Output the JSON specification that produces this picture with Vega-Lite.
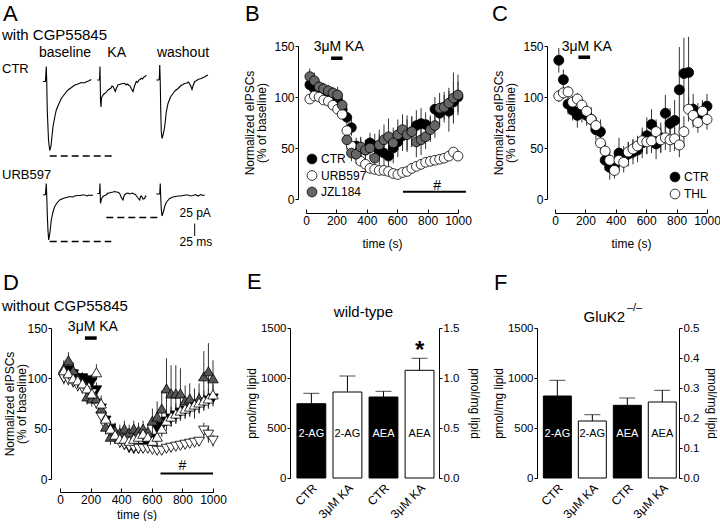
{
"$schema":"https://vega.github.io/schema/vega-lite/v6.json",
"padding":{"left":2,"top":3,"right":0,"bottom":0},
"autosize":{"type":"pad"},
"spacing":22,
"resolve":{"scale":{"fill":"independent","shape":"independent","color":"independent"},"legend":{"fill":"independent"}},
"config":{
"font":"Liberation Sans",
"view":{"stroke":null},
"axis":{"domainColor":"black","tickColor":"black","labelColor":"black","titleColor":"black","labelFontSize":12,"titleFontSize":12,"titleFontWeight":"normal","grid":false,"labelFont":"Liberation Sans","titleFont":"Liberation Sans","labelFlush":false,"labelOverlap":false,"domainWidth":1,"tickWidth":1},
"legend":{"labelColor":"black","labelFont":"Liberation Sans","labelFontSize":12},
"title":{"font":"Liberation Sans","fontWeight":"normal","color":"black","fontSize":15}
},
"vconcat":[
{
"hconcat":[
{
"width":175,"height":152,
"data":{"values":[
{"tr":"c1","t":-154,"v":-71},{"tr":"c1","t":-149,"v":-71},{"tr":"c1","t":-147.5,"v":-41},{"tr":"c1","t":-146.5,"v":-72},{"tr":"c1","t":-145.5,"v":-128},{"tr":"c1","t":-143,"v":-188},{"tr":"c1","t":-140.6,"v":-209},{"tr":"c1","t":-138,"v":-200},{"tr":"c1","t":-134,"v":-161},{"tr":"c1","t":-130,"v":-140},{"tr":"c1","t":-127.4,"v":-128},{"tr":"c1","t":-122,"v":-115},{"tr":"c1","t":-117.4,"v":-105},{"tr":"c1","t":-110,"v":-95},{"tr":"c1","t":-104,"v":-88},{"tr":"c1","t":-97,"v":-83},{"tr":"c1","t":-90.6,"v":-78},{"tr":"c1","t":-84,"v":-76},{"tr":"c1","t":-77.4,"v":-73},{"tr":"c1","t":-72,"v":-74},{"tr":"c1","t":-68,"v":-72},{"tr":"c1","t":-63,"v":-70},{"tr":"c1","t":-57.4,"v":-67},
{"tr":"c2","t":-45.4,"v":-68},{"tr":"c2","t":-41,"v":-68},{"tr":"c2","t":-40,"v":-41},{"tr":"c2","t":-39,"v":-110},{"tr":"c2","t":-38,"v":-122},{"tr":"c2","t":-37,"v":-104},{"tr":"c2","t":-34,"v":-98},{"tr":"c2","t":-31,"v":-95},{"tr":"c2","t":-29,"v":-94},{"tr":"c2","t":-26,"v":-90},{"tr":"c2","t":-24,"v":-88},{"tr":"c2","t":-21,"v":-86},{"tr":"c2","t":-18,"v":-84},{"tr":"c2","t":-16,"v":-80},{"tr":"c2","t":-14,"v":-81},{"tr":"c2","t":-11.5,"v":-86},{"tr":"c2","t":-9.4,"v":-91},{"tr":"c2","t":-7,"v":-84},{"tr":"c2","t":-4,"v":-78},{"tr":"c2","t":-1,"v":-77},{"tr":"c2","t":2,"v":-76},{"tr":"c2","t":6,"v":-75},{"tr":"c2","t":9.4,"v":-74.6},{"tr":"c2","t":12,"v":-78},{"tr":"c2","t":15,"v":-76},{"tr":"c2","t":18,"v":-79},{"tr":"c2","t":20,"v":-80},{"tr":"c2","t":23,"v":-86},{"tr":"c2","t":26,"v":-91},{"tr":"c2","t":29,"v":-80},{"tr":"c2","t":32.6,"v":-71},{"tr":"c2","t":35,"v":-73},{"tr":"c2","t":38,"v":-68},{"tr":"c2","t":40,"v":-67},{"tr":"c2","t":42.6,"v":-64.6},{"tr":"c2","t":45,"v":-66},{"tr":"c2","t":48,"v":-62},{"tr":"c2","t":50,"v":-61},{"tr":"c2","t":52.6,"v":-58},
{"tr":"c3","t":72.6,"v":-68},{"tr":"c3","t":77,"v":-68},{"tr":"c3","t":78.5,"v":-67},{"tr":"c3","t":79.5,"v":-38},{"tr":"c3","t":80.5,"v":-72},{"tr":"c3","t":81.5,"v":-130},{"tr":"c3","t":82.5,"v":-170},{"tr":"c3","t":84,"v":-185},{"tr":"c3","t":86.6,"v":-176},{"tr":"c3","t":89.4,"v":-161},{"tr":"c3","t":92.6,"v":-132},{"tr":"c3","t":96,"v":-115},{"tr":"c3","t":101,"v":-102},{"tr":"c3","t":106,"v":-95},{"tr":"c3","t":111,"v":-89},{"tr":"c3","t":116,"v":-85},{"tr":"c3","t":122,"v":-79},{"tr":"c3","t":126,"v":-77},{"tr":"c3","t":129.4,"v":-75},{"tr":"c3","t":134,"v":-74},{"tr":"c3","t":137,"v":-72},{"tr":"c3","t":139.4,"v":-76},{"tr":"c3","t":141.5,"v":-80},{"tr":"c3","t":144,"v":-87},{"tr":"c3","t":146,"v":-80},{"tr":"c3","t":149.4,"v":-71},{"tr":"c3","t":152,"v":-70},{"tr":"c3","t":156,"v":-67},{"tr":"c3","t":159,"v":-66},{"tr":"c3","t":162.6,"v":-65},{"tr":"c3","t":166,"v":-63},{"tr":"c3","t":169,"v":-62},{"tr":"c3","t":172,"v":-60},{"tr":"c3","t":176,"v":-58},
{"tr":"u1","t":-154,"v":-298},{"tr":"u1","t":-149,"v":-297},{"tr":"u1","t":-147.5,"v":-275},{"tr":"u1","t":-146.5,"v":-300},{"tr":"u1","t":-145.4,"v":-338},{"tr":"u1","t":-144,"v":-370},{"tr":"u1","t":-142.6,"v":-388},{"tr":"u1","t":-140,"v":-372},{"tr":"u1","t":-137.4,"v":-348},{"tr":"u1","t":-134,"v":-332},{"tr":"u1","t":-130.6,"v":-321},{"tr":"u1","t":-126,"v":-314},{"tr":"u1","t":-120.6,"v":-308},{"tr":"u1","t":-114,"v":-305},{"tr":"u1","t":-107.4,"v":-303},{"tr":"u1","t":-100,"v":-301},{"tr":"u1","t":-95,"v":-302},{"tr":"u1","t":-90.6,"v":-300},{"tr":"u1","t":-85,"v":-299},{"tr":"u1","t":-80,"v":-299},{"tr":"u1","t":-75,"v":-298},{"tr":"u1","t":-70.6,"v":-298},{"tr":"u1","t":-66,"v":-300},{"tr":"u1","t":-62,"v":-298},{"tr":"u1","t":-58,"v":-299},{"tr":"u1","t":-54,"v":-298},
{"tr":"u2","t":-45.4,"v":-295},{"tr":"u2","t":-41,"v":-295},{"tr":"u2","t":-40,"v":-275},{"tr":"u2","t":-39,"v":-315},{"tr":"u2","t":-37,"v":-306},{"tr":"u2","t":-34,"v":-301},{"tr":"u2","t":-31,"v":-299},{"tr":"u2","t":-28,"v":-298},{"tr":"u2","t":-26,"v":-296},{"tr":"u2","t":-24,"v":-294},{"tr":"u2","t":-21,"v":-294},{"tr":"u2","t":-18,"v":-293},{"tr":"u2","t":-14,"v":-292},{"tr":"u2","t":-10.6,"v":-291},{"tr":"u2","t":-8,"v":-292},{"tr":"u2","t":-6,"v":-292},{"tr":"u2","t":-3,"v":-293},{"tr":"u2","t":-0.6,"v":-295},{"tr":"u2","t":1.5,"v":-300},{"tr":"u2","t":3,"v":-304},{"tr":"u2","t":6,"v":-308},{"tr":"u2","t":7.5,"v":-302},{"tr":"u2","t":9,"v":-298},{"tr":"u2","t":12,"v":-295},{"tr":"u2","t":16,"v":-294},{"tr":"u2","t":19,"v":-296},{"tr":"u2","t":22,"v":-295},{"tr":"u2","t":25,"v":-294},{"tr":"u2","t":28,"v":-296},{"tr":"u2","t":31,"v":-297},{"tr":"u2","t":33,"v":-300},{"tr":"u2","t":36,"v":-304},{"tr":"u2","t":39.4,"v":-308},{"tr":"u2","t":41,"v":-301},{"tr":"u2","t":43,"v":-300},{"tr":"u2","t":46,"v":-306},{"tr":"u2","t":49.4,"v":-305},{"tr":"u2","t":51,"v":-300},{"tr":"u2","t":52.6,"v":-301},
{"tr":"u3","t":72.6,"v":-296},{"tr":"u3","t":78,"v":-296},{"tr":"u3","t":79.5,"v":-296},{"tr":"u3","t":80.5,"v":-275},{"tr":"u3","t":81.5,"v":-304},{"tr":"u3","t":82.5,"v":-325},{"tr":"u3","t":84,"v":-340},{"tr":"u3","t":86.6,"v":-332},{"tr":"u3","t":89.4,"v":-321},{"tr":"u3","t":92,"v":-314},{"tr":"u3","t":94,"v":-311},{"tr":"u3","t":99.4,"v":-305},{"tr":"u3","t":106,"v":-302},{"tr":"u3","t":111,"v":-301},{"tr":"u3","t":116,"v":-300},{"tr":"u3","t":121,"v":-300},{"tr":"u3","t":126,"v":-299},{"tr":"u3","t":131,"v":-298},{"tr":"u3","t":136,"v":-298},{"tr":"u3","t":141,"v":-300},{"tr":"u3","t":146,"v":-299},{"tr":"u3","t":151,"v":-297},{"tr":"u3","t":156,"v":-300},{"tr":"u3","t":162,"v":-297},{"tr":"u3","t":166,"v":-299},{"tr":"u3","t":169.4,"v":-298}
]},
"encoding":{"x":{"field":"t","type":"quantitative","scale":{"domain":[-120,230],"nice":false,"zero":false},"axis":null},"y":{"field":"v","type":"quantitative","scale":{"domain":[-304,0],"nice":false,"zero":false},"axis":null}},
"layer":[
{"mark":{"type":"line","color":"black","strokeWidth":1.1},"encoding":{"detail":{"field":"tr","type":"nominal"}}},
{"data":{"values":[{"t":-140.6,"t2":-14,"v":-220},{"t":-27.4,"t2":79.4,"v":-343},{"t":-140.6,"t2":-17.4,"v":-391}]},"mark":{"type":"rule","color":"black","strokeWidth":1.5,"strokeDash":[7,4]},"encoding":{"x2":{"field":"t2"}}},
{"data":{"values":[{"t":149.4,"v":-355,"v2":-380}]},"mark":{"type":"rule","color":"black","strokeWidth":1},"encoding":{"y2":{"field":"v2"}}},
{"data":{"values":[{"t":-234,"v":50,"label":"A"}]},"mark":{"type":"text","fontSize":22,"align":"left","baseline":"alphabetic","color":"black"},"encoding":{"text":{"field":"label"}}},
{"data":{"values":[{"t":-236,"v":12,"label":"with CGP55845"}]},"mark":{"type":"text","fontSize":15,"align":"left","baseline":"alphabetic","color":"black"},"encoding":{"text":{"field":"label"}}},
{"data":{"values":[{"t":-110,"v":-21,"label":"baseline"},{"t":-6.6,"v":-21,"label":"KA"},{"t":126,"v":-21,"label":"washout"}]},"mark":{"type":"text","fontSize":14,"align":"center","baseline":"alphabetic","color":"black"},"encoding":{"text":{"field":"label"}}},
{"data":{"values":[{"t":-236,"v":-53,"label":"CTR"},{"t":-236,"v":-266,"label":"URB597"}]},"mark":{"type":"text","fontSize":13,"align":"left","baseline":"alphabetic","color":"black"},"encoding":{"text":{"field":"label"}}},
{"data":{"values":[{"t":119,"v":-341,"label":"25 pA"},{"t":119,"v":-400,"label":"25 ms"}]},"mark":{"type":"text","fontSize":12,"align":"left","baseline":"alphabetic","color":"black"},"encoding":{"text":{"field":"label"}}}
]
},
{"width":71,"height":1,"data":{"values":[{"a":1}]},"mark":{"type":"point","opacity":0},"encoding":{}},
{
"width":152,"height":153,
"encoding":{
"x":{"field":"t","type":"quantitative","scale":{"domain":[0,1000],"nice":false,"zero":false},"axis":{"values":[0,200,400,600,800,1000],"format":"d","title":"time (s)","titleFontSize":12,"offset":14,"tickSize":-4,"labelPadding":6,"titlePadding":12}},
"y":{"field":"v","type":"quantitative","scale":{"domain":[0,150],"nice":false,"zero":false},"axis":{"values":[0,50,100,150],"title":["Normalized eIPSCs","(% of baseline)"],"titleLineHeight":12,"offset":8,"tickSize":3,"labelPadding":1,"titlePadding":5}}
},
"layer":[
{"data":{"values":[
{"t":25,"s":"CTR","v":112,"e":6},{"t":55,"s":"CTR","v":108,"e":5},{"t":86,"s":"CTR","v":107,"e":5},{"t":116,"s":"CTR","v":105,"e":5},{"t":147,"s":"CTR","v":102,"e":5},{"t":177,"s":"CTR","v":99,"e":5},{"t":208,"s":"CTR","v":96,"e":6},{"t":238,"s":"CTR","v":88,"e":8},{"t":269,"s":"CTR","v":80,"e":8},{"t":299,"s":"CTR","v":70,"e":8},{"t":330,"s":"CTR","v":52,"e":8},{"t":360,"s":"CTR","v":50,"e":10},{"t":391,"s":"CTR","v":48,"e":10},{"t":421,"s":"CTR","v":55,"e":10},{"t":452,"s":"CTR","v":52,"e":12},{"t":482,"s":"CTR","v":48,"e":15},{"t":513,"s":"CTR","v":45,"e":15},{"t":543,"s":"CTR","v":42,"e":15},{"t":574,"s":"CTR","v":50,"e":15},{"t":604,"s":"CTR","v":56,"e":15},{"t":635,"s":"CTR","v":62,"e":15},{"t":665,"s":"CTR","v":64,"e":18},{"t":696,"s":"CTR","v":66,"e":15},{"t":726,"s":"CTR","v":72,"e":15},{"t":757,"s":"CTR","v":74,"e":15},{"t":787,"s":"CTR","v":73,"e":12},{"t":818,"s":"CTR","v":70,"e":12},{"t":848,"s":"CTR","v":88,"e":12},{"t":879,"s":"CTR","v":84,"e":12},{"t":909,"s":"CTR","v":90,"e":12},{"t":940,"s":"CTR","v":86,"e":20},{"t":970,"s":"CTR","v":95,"e":20},{"t":1000,"s":"CTR","v":100,"e":15},
{"t":25,"s":"URB597","v":98,"e":4},{"t":55,"s":"URB597","v":101,"e":4},{"t":86,"s":"URB597","v":100,"e":3},{"t":116,"s":"URB597","v":97,"e":3},{"t":147,"s":"URB597","v":96,"e":3},{"t":177,"s":"URB597","v":92,"e":3},{"t":208,"s":"URB597","v":88,"e":3},{"t":238,"s":"URB597","v":83,"e":4},{"t":269,"s":"URB597","v":67,"e":4},{"t":299,"s":"URB597","v":52,"e":4},{"t":330,"s":"URB597","v":44,"e":4},{"t":360,"s":"URB597","v":37,"e":3},{"t":391,"s":"URB597","v":34,"e":3},{"t":421,"s":"URB597","v":30,"e":3},{"t":452,"s":"URB597","v":29,"e":3},{"t":482,"s":"URB597","v":28,"e":3},{"t":513,"s":"URB597","v":28,"e":3},{"t":543,"s":"URB597","v":27,"e":3},{"t":574,"s":"URB597","v":25,"e":3},{"t":604,"s":"URB597","v":24,"e":3},{"t":635,"s":"URB597","v":26,"e":3},{"t":665,"s":"URB597","v":27,"e":3},{"t":696,"s":"URB597","v":30,"e":3},{"t":726,"s":"URB597","v":32,"e":3},{"t":757,"s":"URB597","v":34,"e":3},{"t":787,"s":"URB597","v":36,"e":3},{"t":818,"s":"URB597","v":37,"e":3},{"t":848,"s":"URB597","v":38,"e":3},{"t":879,"s":"URB597","v":39,"e":3},{"t":909,"s":"URB597","v":40,"e":3},{"t":940,"s":"URB597","v":42,"e":3},{"t":970,"s":"URB597","v":46,"e":4},{"t":1000,"s":"URB597","v":42,"e":4},
{"t":25,"s":"JZL184","v":120,"e":8},{"t":55,"s":"JZL184","v":116,"e":8},{"t":86,"s":"JZL184","v":110,"e":6},{"t":116,"s":"JZL184","v":108,"e":6},{"t":147,"s":"JZL184","v":106,"e":6},{"t":177,"s":"JZL184","v":104,"e":6},{"t":208,"s":"JZL184","v":102,"e":8},{"t":238,"s":"JZL184","v":92,"e":10},{"t":269,"s":"JZL184","v":58,"e":10},{"t":299,"s":"JZL184","v":45,"e":8},{"t":330,"s":"JZL184","v":44,"e":10},{"t":360,"s":"JZL184","v":51,"e":10},{"t":391,"s":"JZL184","v":48,"e":10},{"t":421,"s":"JZL184","v":50,"e":10},{"t":452,"s":"JZL184","v":40,"e":12},{"t":482,"s":"JZL184","v":53,"e":15},{"t":513,"s":"JZL184","v":58,"e":15},{"t":543,"s":"JZL184","v":61,"e":18},{"t":574,"s":"JZL184","v":55,"e":15},{"t":604,"s":"JZL184","v":63,"e":15},{"t":635,"s":"JZL184","v":68,"e":15},{"t":665,"s":"JZL184","v":63,"e":15},{"t":696,"s":"JZL184","v":66,"e":15},{"t":726,"s":"JZL184","v":56,"e":15},{"t":757,"s":"JZL184","v":58,"e":15},{"t":787,"s":"JZL184","v":61,"e":12},{"t":818,"s":"JZL184","v":68,"e":12},{"t":848,"s":"JZL184","v":72,"e":12},{"t":879,"s":"JZL184","v":89,"e":15},{"t":909,"s":"JZL184","v":90,"e":15},{"t":940,"s":"JZL184","v":94,"e":15},{"t":970,"s":"JZL184","v":99,"e":25},{"t":1000,"s":"JZL184","v":102,"e":20}
]},
"layer":[
{"mark":{"type":"errorbar","color":"#333333"},"encoding":{"yError":{"field":"e"}}},
{"mark":{"type":"point","shape":"circle","filled":true,"size":95,"stroke":"black","strokeWidth":0.8,"opacity":1},"encoding":{"fill":{"field":"s","type":"nominal","scale":{"domain":["CTR","URB597","JZL184"],"range":["black","white","#666666"]},"legend":{"title":null,"orient":"bottom-left","offset":0,"padding":0,"symbolSize":95,"symbolType":"circle","symbolStrokeColor":"black","symbolStrokeWidth":0.8,"rowPadding":2.5,"labelOffset":3}}}}
]},
{"data":{"values":[{"t":165,"t2":240,"v":138}]},"mark":{"type":"rule","strokeWidth":3.5,"color":"black"},"encoding":{"x2":{"field":"t2"}}},
{"data":{"values":[{"t":638,"t2":1052,"v":7}]},"mark":{"type":"rule","strokeWidth":2,"color":"black"},"encoding":{"x2":{"field":"t2"}}},
{"data":{"values":[{"t":215,"v":145,"label":"3μM KA"},{"t":862,"v":9,"label":"#"}]},"mark":{"type":"text","fontSize":14,"baseline":"alphabetic","color":"black"},"encoding":{"text":{"field":"label"}}},
{"data":{"values":[{"t":-401,"v":174.5,"label":"B"}]},"mark":{"type":"text","fontSize":22,"align":"left","baseline":"alphabetic","color":"black"},"encoding":{"text":{"field":"label"}}}
]
},
{"width":97,"height":1,"data":{"values":[{"a":1}]},"mark":{"type":"point","opacity":0},"encoding":{}},
{
"width":152,"height":153,
"encoding":{
"x":{"field":"t","type":"quantitative","scale":{"domain":[0,1000],"nice":false,"zero":false},"axis":{"values":[0,200,400,600,800,1000],"format":"d","title":"time (s)","titleFontSize":12,"offset":14,"tickSize":-4,"labelPadding":6,"titlePadding":12}},
"y":{"field":"v","type":"quantitative","scale":{"domain":[0,150],"nice":false,"zero":false},"axis":{"values":[0,50,100,150],"title":["Normalized eIPSCs","(% of baseline)"],"titleLineHeight":12,"offset":8,"tickSize":3,"labelPadding":1,"titlePadding":5}}
},
"layer":[
{"data":{"values":[
{"t":25,"s":"CTR","v":136,"e":12},{"t":55,"s":"CTR","v":117,"e":10},{"t":86,"s":"CTR","v":93,"e":10},{"t":116,"s":"CTR","v":87,"e":10},{"t":147,"s":"CTR","v":82,"e":12},{"t":177,"s":"CTR","v":85,"e":10},{"t":208,"s":"CTR","v":82,"e":10},{"t":238,"s":"CTR","v":78,"e":12},{"t":269,"s":"CTR","v":68,"e":10},{"t":299,"s":"CTR","v":66,"e":12},{"t":330,"s":"CTR","v":38,"e":10},{"t":360,"s":"CTR","v":31,"e":12},{"t":391,"s":"CTR","v":34,"e":10},{"t":421,"s":"CTR","v":45,"e":15},{"t":452,"s":"CTR","v":42,"e":10},{"t":482,"s":"CTR","v":44,"e":12},{"t":513,"s":"CTR","v":46,"e":12},{"t":543,"s":"CTR","v":48,"e":12},{"t":574,"s":"CTR","v":55,"e":15},{"t":604,"s":"CTR","v":62,"e":18},{"t":635,"s":"CTR","v":73,"e":15},{"t":665,"s":"CTR","v":54,"e":15},{"t":696,"s":"CTR","v":60,"e":15},{"t":726,"s":"CTR","v":84,"e":18},{"t":757,"s":"CTR","v":74,"e":15},{"t":787,"s":"CTR","v":77,"e":20},{"t":818,"s":"CTR","v":107,"e":42},{"t":848,"s":"CTR","v":123,"e":35},{"t":879,"s":"CTR","v":124,"e":35},{"t":909,"s":"CTR","v":88,"e":15},{"t":940,"s":"CTR","v":82,"e":12},{"t":970,"s":"CTR","v":85,"e":12},{"t":1000,"s":"CTR","v":91,"e":12},
{"t":25,"s":"THL","v":101,"e":6},{"t":55,"s":"THL","v":104,"e":6},{"t":86,"s":"THL","v":105,"e":6},{"t":116,"s":"THL","v":95,"e":6},{"t":147,"s":"THL","v":98,"e":6},{"t":177,"s":"THL","v":92,"e":6},{"t":208,"s":"THL","v":86,"e":6},{"t":238,"s":"THL","v":78,"e":6},{"t":269,"s":"THL","v":72,"e":8},{"t":299,"s":"THL","v":55,"e":8},{"t":330,"s":"THL","v":47,"e":8},{"t":360,"s":"THL","v":38,"e":8},{"t":391,"s":"THL","v":28,"e":8},{"t":421,"s":"THL","v":38,"e":10},{"t":452,"s":"THL","v":36,"e":10},{"t":482,"s":"THL","v":46,"e":10},{"t":513,"s":"THL","v":49,"e":10},{"t":543,"s":"THL","v":52,"e":10},{"t":574,"s":"THL","v":57,"e":10},{"t":604,"s":"THL","v":56,"e":12},{"t":635,"s":"THL","v":57,"e":12},{"t":665,"s":"THL","v":66,"e":12},{"t":696,"s":"THL","v":58,"e":12},{"t":726,"s":"THL","v":60,"e":12},{"t":757,"s":"THL","v":58,"e":12},{"t":787,"s":"THL","v":59,"e":12},{"t":818,"s":"THL","v":53,"e":12},{"t":848,"s":"THL","v":66,"e":15},{"t":879,"s":"THL","v":88,"e":12},{"t":909,"s":"THL","v":82,"e":12},{"t":940,"s":"THL","v":75,"e":10},{"t":970,"s":"THL","v":86,"e":10},{"t":1000,"s":"THL","v":78,"e":10}
]},
"layer":[
{"mark":{"type":"errorbar","color":"#333333"},"encoding":{"yError":{"field":"e"}}},
{"mark":{"type":"point","shape":"circle","filled":true,"size":100,"stroke":"black","strokeWidth":0.8,"opacity":1},"encoding":{"fill":{"field":"s","type":"nominal","scale":{"domain":["CTR","THL"],"range":["black","white"]},"legend":{"title":null,"orient":"bottom-right","offset":-2,"padding":0,"symbolSize":95,"symbolType":"circle","symbolStrokeColor":"black","symbolStrokeWidth":0.8,"rowPadding":3,"labelOffset":3}}}}
]},
{"data":{"values":[{"t":154,"t2":231,"v":139}]},"mark":{"type":"rule","strokeWidth":3.5,"color":"black"},"encoding":{"x2":{"field":"t2"}}},
{"data":{"values":[{"t":209,"v":145,"label":"3μM KA"}]},"mark":{"type":"text","fontSize":14,"baseline":"alphabetic","color":"black"},"encoding":{"text":{"field":"label"}}},
{"data":{"values":[{"t":-414,"v":174.5,"label":"C"}]},"mark":{"type":"text","fontSize":22,"align":"left","baseline":"alphabetic","color":"black"},"encoding":{"text":{"field":"label"}}}
]
}
],
"spacing":0,
"bounds":"flush",
"resolve":{"scale":{"fill":"independent","shape":"independent","color":"independent"},"legend":{"fill":"independent"}}
},
{
"hconcat":[
{
"width":153,"height":151,
"encoding":{
"x":{"field":"t","type":"quantitative","scale":{"domain":[0,1000],"nice":false,"zero":false},"axis":{"values":[0,200,400,600,800,1000],"format":"d","title":"time (s)","titleFontSize":12,"offset":13,"tickSize":-4,"labelPadding":6,"titlePadding":4}},
"y":{"field":"v","type":"quantitative","scale":{"domain":[0,150],"nice":false,"zero":false},"axis":{"values":[0,50,100,150],"title":["Normalized eIPSCs","(% of baseline)"],"titleLineHeight":12,"offset":9,"tickSize":3,"labelPadding":1,"titlePadding":-2}}
},
"layer":[
{"data":{"values":[
{"t":25,"s":"CTR","v":100,"e":6},{"t":55,"s":"CTR","v":108,"e":6},{"t":86,"s":"CTR","v":104,"e":6},{"t":116,"s":"CTR","v":100,"e":6},{"t":147,"s":"CTR","v":100,"e":6},{"t":177,"s":"CTR","v":98,"e":6},{"t":208,"s":"CTR","v":96,"e":8},{"t":238,"s":"CTR","v":88,"e":8},{"t":269,"s":"CTR","v":70,"e":8},{"t":299,"s":"CTR","v":58,"e":8},{"t":330,"s":"CTR","v":50,"e":6},{"t":360,"s":"CTR","v":42,"e":6},{"t":391,"s":"CTR","v":38,"e":6},{"t":421,"s":"CTR","v":34,"e":5},{"t":452,"s":"CTR","v":31,"e":5},{"t":482,"s":"CTR","v":30,"e":5},{"t":513,"s":"CTR","v":30,"e":5},{"t":543,"s":"CTR","v":31,"e":5},{"t":574,"s":"CTR","v":33,"e":5},{"t":604,"s":"CTR","v":40,"e":8},{"t":635,"s":"CTR","v":50,"e":8},{"t":665,"s":"CTR","v":52,"e":8},{"t":696,"s":"CTR","v":57,"e":8},{"t":726,"s":"CTR","v":60,"e":8},{"t":757,"s":"CTR","v":63,"e":8},{"t":787,"s":"CTR","v":66,"e":8},{"t":818,"s":"CTR","v":68,"e":8},{"t":848,"s":"CTR","v":70,"e":8},{"t":879,"s":"CTR","v":72,"e":8},{"t":909,"s":"CTR","v":74,"e":8},{"t":940,"s":"CTR","v":76,"e":8},{"t":970,"s":"CTR","v":78,"e":8},{"t":1000,"s":"CTR","v":80,"e":8},
{"t":25,"s":"URB597","v":100,"e":5},{"t":55,"s":"URB597","v":98,"e":5},{"t":86,"s":"URB597","v":96,"e":5},{"t":116,"s":"URB597","v":92,"e":5},{"t":147,"s":"URB597","v":90,"e":5},{"t":177,"s":"URB597","v":87,"e":5},{"t":208,"s":"URB597","v":85,"e":5},{"t":238,"s":"URB597","v":75,"e":5},{"t":269,"s":"URB597","v":62,"e":5},{"t":299,"s":"URB597","v":52,"e":5},{"t":330,"s":"URB597","v":45,"e":5},{"t":360,"s":"URB597","v":40,"e":5},{"t":391,"s":"URB597","v":36,"e":5},{"t":421,"s":"URB597","v":34,"e":4},{"t":452,"s":"URB597","v":32,"e":4},{"t":482,"s":"URB597","v":31,"e":4},{"t":513,"s":"URB597","v":30,"e":4},{"t":543,"s":"URB597","v":30,"e":4},{"t":574,"s":"URB597","v":30,"e":4},{"t":604,"s":"URB597","v":29,"e":4},{"t":635,"s":"URB597","v":28,"e":4},{"t":665,"s":"URB597","v":28,"e":4},{"t":696,"s":"URB597","v":30,"e":4},{"t":726,"s":"URB597","v":31,"e":4},{"t":757,"s":"URB597","v":32,"e":4},{"t":787,"s":"URB597","v":33,"e":4},{"t":818,"s":"URB597","v":34,"e":4},{"t":848,"s":"URB597","v":35,"e":4},{"t":879,"s":"URB597","v":36,"e":4},{"t":909,"s":"URB597","v":37,"e":4},{"t":940,"s":"URB597","v":48,"e":8},{"t":970,"s":"URB597","v":44,"e":8},{"t":1000,"s":"URB597","v":38,"e":6},
{"t":25,"s":"JZL184","v":110,"e":8},{"t":55,"s":"JZL184","v":118,"e":8},{"t":86,"s":"JZL184","v":108,"e":8},{"t":116,"s":"JZL184","v":100,"e":8},{"t":147,"s":"JZL184","v":96,"e":8},{"t":177,"s":"JZL184","v":82,"e":8},{"t":208,"s":"JZL184","v":80,"e":8},{"t":238,"s":"JZL184","v":80,"e":8},{"t":269,"s":"JZL184","v":70,"e":8},{"t":299,"s":"JZL184","v":52,"e":8},{"t":330,"s":"JZL184","v":42,"e":8},{"t":360,"s":"JZL184","v":48,"e":8},{"t":391,"s":"JZL184","v":46,"e":8},{"t":421,"s":"JZL184","v":50,"e":8},{"t":452,"s":"JZL184","v":46,"e":8},{"t":482,"s":"JZL184","v":50,"e":8},{"t":513,"s":"JZL184","v":48,"e":8},{"t":543,"s":"JZL184","v":50,"e":8},{"t":574,"s":"JZL184","v":47,"e":8},{"t":604,"s":"JZL184","v":58,"e":12},{"t":635,"s":"JZL184","v":62,"e":15},{"t":665,"s":"JZL184","v":70,"e":18},{"t":696,"s":"JZL184","v":90,"e":30},{"t":726,"s":"JZL184","v":85,"e":28},{"t":757,"s":"JZL184","v":85,"e":28},{"t":787,"s":"JZL184","v":85,"e":25},{"t":818,"s":"JZL184","v":78,"e":15},{"t":848,"s":"JZL184","v":80,"e":15},{"t":879,"s":"JZL184","v":75,"e":15},{"t":909,"s":"JZL184","v":80,"e":15},{"t":940,"s":"JZL184","v":102,"e":25},{"t":970,"s":"JZL184","v":107,"e":28},{"t":1000,"s":"JZL184","v":100,"e":18},
{"t":25,"s":"THL","v":108,"e":8},{"t":55,"s":"THL","v":105,"e":8},{"t":86,"s":"THL","v":100,"e":8},{"t":116,"s":"THL","v":98,"e":8},{"t":147,"s":"THL","v":95,"e":8},{"t":177,"s":"THL","v":90,"e":8},{"t":208,"s":"THL","v":85,"e":8},{"t":238,"s":"THL","v":106,"e":8},{"t":269,"s":"THL","v":75,"e":8},{"t":299,"s":"THL","v":60,"e":8},{"t":330,"s":"THL","v":50,"e":8},{"t":360,"s":"THL","v":44,"e":8},{"t":391,"s":"THL","v":40,"e":8},{"t":421,"s":"THL","v":40,"e":8},{"t":452,"s":"THL","v":38,"e":8},{"t":482,"s":"THL","v":40,"e":8},{"t":513,"s":"THL","v":42,"e":8},{"t":543,"s":"THL","v":45,"e":8},{"t":574,"s":"THL","v":42,"e":8},{"t":604,"s":"THL","v":38,"e":8},{"t":635,"s":"THL","v":42,"e":8},{"t":665,"s":"THL","v":50,"e":8},{"t":696,"s":"THL","v":58,"e":10},{"t":726,"s":"THL","v":62,"e":10},{"t":757,"s":"THL","v":65,"e":10},{"t":787,"s":"THL","v":68,"e":10},{"t":818,"s":"THL","v":70,"e":10},{"t":848,"s":"THL","v":72,"e":10},{"t":879,"s":"THL","v":74,"e":10},{"t":909,"s":"THL","v":76,"e":10},{"t":940,"s":"THL","v":78,"e":10},{"t":970,"s":"THL","v":80,"e":10},{"t":1000,"s":"THL","v":84,"e":10}
]},
"layer":[
{"mark":{"type":"errorbar","color":"#333333"},"encoding":{"yError":{"field":"e"}}},
{"mark":{"type":"point","filled":true,"size":110,"stroke":"black","strokeWidth":0.8,"opacity":1},"encoding":{"fill":{"field":"s","type":"nominal","scale":{"domain":["CTR","URB597","JZL184","THL"],"range":["black","white","#555555","white"]},"legend":null},"shape":{"field":"s","type":"nominal","scale":{"domain":["CTR","URB597","JZL184","THL"],"range":["triangle-down","triangle-down","triangle-up","triangle-up"]},"legend":null}}}
]},
{"data":{"values":[{"t":163,"t2":240,"v":140}]},"mark":{"type":"rule","strokeWidth":3.5,"color":"black"},"encoding":{"x2":{"field":"t2"}}},
{"data":{"values":[{"t":657,"t2":1000,"v":5.5}]},"mark":{"type":"rule","strokeWidth":2,"color":"black"},"encoding":{"x2":{"field":"t2"}}},
{"data":{"values":[{"t":215,"v":147,"label":"3μM KA"},{"t":800,"v":9,"label":"#"}]},"mark":{"type":"text","fontSize":14,"baseline":"alphabetic","color":"black"},"encoding":{"text":{"field":"label"}}},
{"data":{"values":[{"t":-379,"v":167,"label":"without CGP55845"}]},"mark":{"type":"text","fontSize":15,"align":"left","baseline":"alphabetic","color":"black"},"encoding":{"text":{"field":"label"}}},
{"data":{"values":[{"t":-372.5,"v":187.7,"label":"D"}]},"mark":{"type":"text","fontSize":22,"align":"left","baseline":"alphabetic","color":"black"},"encoding":{"text":{"field":"label"}}}
]
},
{"width":77,"height":1,"data":{"values":[{"a":1}]},"mark":{"type":"point","opacity":0},"encoding":{}},
{
"width":149,"height":150,
"resolve":{"scale":{"y":"independent"}},
"layer":[
{
"data":{"values":[{"g":"2-AG|CTR","lab":"2-AG","c":"CTR","v":743,"hi":847},{"g":"2-AG|3μM KA","lab":"2-AG","c":"KA","v":860,"hi":1020},{"g":"AEA|CTR","lab":"AEA","c":"CTR","v":810,"hi":867},{"g":"AEA|3μM KA","lab":"AEA","c":"KA","v":1077,"hi":1197}]},
"encoding":{
"x":{"field":"g","type":"nominal","scale":{"domain":["2-AG|CTR","2-AG|3μM KA","AEA|CTR","AEA|3μM KA"],"paddingInner":0.2,"paddingOuter":0.166,"align":0.58},"axis":{"title":null,"labelAngle":-45,"labelExpr":"split(datum.value,'|')[1]","domain":false,"ticks":false,"labelPadding":4,"labelFontSize":12}},
"y":{"field":"v","type":"quantitative","title":"pmol/mg lipid","scale":{"domain":[0,1500],"nice":false,"zero":false},"axis":{"values":[0,500,1000,1500],"format":"d","title":"pmol/mg lipid","titleFontSize":12,"labelFontSize":11.5,"tickSize":3,"labelPadding":1,"titlePadding":2}}
},
"layer":[
{"mark":{"type":"rule","color":"black","strokeWidth":1},"encoding":{"y2":{"field":"hi"}}},
{"mark":{"type":"tick","color":"black","thickness":1,"size":16},"encoding":{"y":{"field":"hi","type":"quantitative","title":"pmol/mg lipid"}}},
{"mark":{"type":"bar","stroke":"black","strokeWidth":1},"encoding":{"fill":{"field":"c","type":"nominal","scale":{"domain":["CTR","KA"],"range":["black","white"]},"legend":null}}},
{"mark":{"type":"text","fontSize":11,"baseline":"middle"},"encoding":{"text":{"field":"lab"},"y":{"datum":440},"color":{"field":"c","type":"nominal","scale":{"domain":["CTR","KA"],"range":["white","black"]},"legend":null}}},
{"data":{"values":[{"g":"AEA|3μM KA","v":1200,"label":"*"}]},"mark":{"type":"text","fontSize":24,"fontWeight":"bold","baseline":"alphabetic","color":"black"},"encoding":{"text":{"field":"label"}}},
{"data":{"values":[{"g":"2-AG|3μM KA","v":1610,"label":"wild-type"}]},"mark":{"type":"text","fontSize":15,"align":"center","baseline":"alphabetic","dx":16,"color":"black"},"encoding":{"text":{"field":"label"}}},
{"data":{"values":[{"g":"2-AG|CTR","v":1890,"label":"E"}]},"mark":{"type":"text","fontSize":22,"align":"left","baseline":"alphabetic","dx":-64.4,"color":"black"},"encoding":{"text":{"field":"label"}}}
]
},
{"data":{"values":[{"r":0},{"r":1.5}]},"mark":{"type":"point","opacity":0},"encoding":{"y":{"field":"r","type":"quantitative","scale":{"domain":[0,1.5],"nice":false,"zero":false},"axis":{"orient":"right","values":[0,0.5,1,1.5],"format":".1f","title":"pmol/mg lipid","titleFontSize":12,"labelFontSize":11.5,"tickSize":3,"labelPadding":1,"titlePadding":9}}}}
]
},
{"width":98,"height":1,"data":{"values":[{"a":1}]},"mark":{"type":"point","opacity":0},"encoding":{}},
{
"width":142,"height":150,
"resolve":{"scale":{"y":"independent"}},
"layer":[
{
"data":{"values":[{"g":"2-AG|CTR","lab":"2-AG","c":"CTR","v":820,"hi":977},{"g":"2-AG|3μM KA","lab":"2-AG","c":"KA","v":570,"hi":633},{"g":"AEA|CTR","lab":"AEA","c":"CTR","v":727,"hi":800},{"g":"AEA|3μM KA","lab":"AEA","c":"KA","v":760,"hi":877}]},
"encoding":{
"x":{"field":"g","type":"nominal","scale":{"domain":["2-AG|CTR","2-AG|3μM KA","AEA|CTR","AEA|3μM KA"],"paddingInner":0.2,"paddingOuter":0.13,"align":0.7},"axis":{"title":null,"labelAngle":-45,"labelExpr":"split(datum.value,'|')[1]","domain":false,"ticks":false,"labelPadding":4,"labelFontSize":12}},
"y":{"field":"v","type":"quantitative","title":"pmol/mg lipid","scale":{"domain":[0,1500],"nice":false,"zero":false},"axis":{"values":[0,500,1000,1500],"format":"d","title":"pmol/mg lipid","titleFontSize":12,"labelFontSize":11.5,"tickSize":3,"labelPadding":1,"titlePadding":2}}
},
"layer":[
{"mark":{"type":"rule","color":"black","strokeWidth":1},"encoding":{"y2":{"field":"hi"}}},
{"mark":{"type":"tick","color":"black","thickness":1,"size":16},"encoding":{"y":{"field":"hi","type":"quantitative","title":"pmol/mg lipid"}}},
{"mark":{"type":"bar","stroke":"black","strokeWidth":1},"encoding":{"fill":{"field":"c","type":"nominal","scale":{"domain":["CTR","KA"],"range":["black","white"]},"legend":null}}},
{"mark":{"type":"text","fontSize":11,"baseline":"middle"},"encoding":{"text":{"field":"lab"},"y":{"datum":440},"color":{"field":"c","type":"nominal","scale":{"domain":["CTR","KA"],"range":["white","black"]},"legend":null}}},
{"data":{"values":[{"g":"2-AG|3μM KA","v":1560,"label":"GluK2"}]},"mark":{"type":"text","fontSize":15,"align":"center","baseline":"alphabetic","dx":12,"color":"black"},"encoding":{"text":{"field":"label"}}},
{"data":{"values":[{"g":"2-AG|3μM KA","v":1670,"label":"–/–"}]},"mark":{"type":"text","fontSize":11,"align":"left","baseline":"alphabetic","dx":34.6,"color":"black"},"encoding":{"text":{"field":"label"}}},
{"data":{"values":[{"g":"2-AG|CTR","v":1880,"label":"F"}]},"mark":{"type":"text","fontSize":22,"align":"left","baseline":"alphabetic","dx":-63.4,"color":"black"},"encoding":{"text":{"field":"label"}}}
]
},
{"data":{"values":[{"r":0},{"r":0.5}]},"mark":{"type":"point","opacity":0},"encoding":{"y":{"field":"r","type":"quantitative","scale":{"domain":[0,0.5],"nice":false,"zero":false},"axis":{"orient":"right","values":[0,0.1,0.2,0.3,0.4,0.5],"format":".1f","title":"pmol/mg lipid","titleFontSize":12,"labelFontSize":11.5,"tickSize":3,"labelPadding":1,"titlePadding":6}}}}
]
}
],
"spacing":0,
"bounds":"flush",
"resolve":{"scale":{"fill":"independent","shape":"independent","color":"independent"},"legend":{"fill":"independent"}}
}
]
}
